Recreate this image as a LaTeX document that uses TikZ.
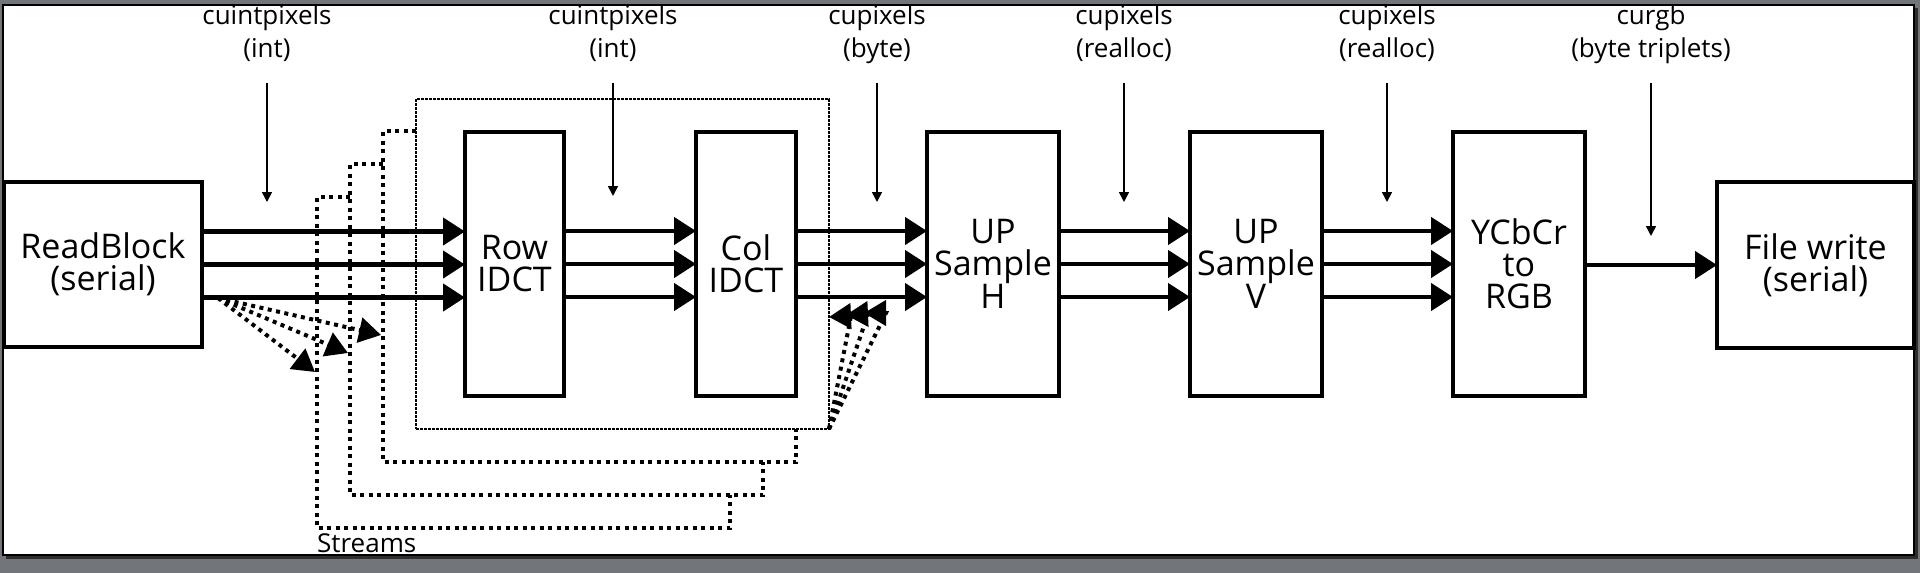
\documentclass[tikz,border=0pt]{standalone}
\usepackage{fontspec}
\setmainfont{Open Sans}
\usetikzlibrary{arrows.meta}
\definecolor{bggray}{RGB}{114,118,122}
\definecolor{shadowgray}{RGB}{45,45,45}
\begin{document}
\begin{tikzpicture}[x=1pt,y=-1pt,
  box/.style={draw=black, line width=4pt, fill=white, inner sep=0pt, outer sep=0pt, align=center, font=\fontsize{34}{32}\selectfont},
  flow/.style={line width=4.5pt, -{Triangle[length=22pt,width=27pt]}},
  lbl/.style={anchor=base, inner sep=0pt, font=\fontsize{26}{30}\selectfont},
  lblarrow/.style={line width=1.6pt, -{Triangle[length=10pt,width=10pt]}},
  stream/.style={line width=4pt, dash pattern=on 4pt off 4.5pt},
  streamarrow/.style={stream, -{Triangle[length=22pt,width=25pt]}},
  grpbox/.style={draw, line width=2.8pt, dash pattern=on 3pt off 1pt, inner sep=0pt, outer sep=0pt},
]
\useasboundingbox (0,0) rectangle (1920,573);
% window background and canvas
\fill[bggray] (0,0) rectangle (1920,573);
\fill[shadowgray] (6,8) rectangle (1918,559);
\filldraw[fill=white, draw=black, line width=2pt] (3,5) rectangle (1914,555);

% stacked stream outlines (behind the IDCT group)
\draw[stream] (416,131) -- (383,131) -- (383,462) -- (796,462) -- (796,429);
\draw[stream] (383,164) -- (350,164) -- (350,495) -- (763,495) -- (763,462);
\draw[stream] (350,197) -- (317,197) -- (317,528) -- (730,528) -- (730,495);

% IDCT group box
\node[grpbox, minimum width=413, minimum height=330] (grp) at (622.5,264) {};

% processing boxes
\node[box, minimum width=198, minimum height=165] (rb) at (103,264.5) {ReadBlock\\(serial)};
\node[box, minimum width=99, minimum height=264] (row) at (514.5,264) {Row\\IDCT};
\node[box, minimum width=100, minimum height=264] (col) at (746,264) {Col\\IDCT};
\node[box, minimum width=132, minimum height=264] (uph) at (993,264) {UP\\Sample\\H};
\node[box, minimum width=132, minimum height=264] (upv) at (1256,264) {UP\\Sample\\V};
\node[box, minimum width=132, minimum height=264] (ycc) at (1519,264) {YCbCr\\to\\RGB};
\node[box, minimum width=197, minimum height=166] (fw) at (1815.5,265) {File write\\(serial)};

% main data flow
\foreach \s in {33pt,0pt,-33pt}{
  \draw[flow] ([yshift=\s]rb.east) -- ([yshift=\s]rb.east -| row.west);
  \draw[flow] ([yshift=\s]row.east) -- ([yshift=\s]row.east -| col.west);
  \draw[flow] ([yshift=\s]col.east) -- ([yshift=\s]col.east -| uph.west);
  \draw[flow] ([yshift=\s]uph.east) -- ([yshift=\s]uph.east -| upv.west);
  \draw[flow] ([yshift=\s]upv.east) -- ([yshift=\s]upv.east -| ycc.west);
}
\draw[flow] (ycc.east |- fw.west) -- (fw.west);

% buffer labels
\node[lbl] (l1a) at (267,24) {cuintpixels};
\node[lbl] (l1b) at (267,57) {(int)};
\node[lbl] (l2a) at (613,24) {cuintpixels};
\node[lbl] (l2b) at (613,57) {(int)};
\node[lbl] (l3a) at (877,24) {cupixels};
\node[lbl] (l3b) at (877,57) {(byte)};
\node[lbl] (l4a) at (1124,24) {cupixels};
\node[lbl] (l4b) at (1124,57) {(realloc)};
\node[lbl] (l5a) at (1387,24) {cupixels};
\node[lbl] (l5b) at (1387,57) {(realloc)};
\node[lbl] (l6a) at (1651,24) {curgb};
\node[lbl] (l6b) at (1651,57) {(byte triplets)};

\coordinate (a1s) at (267,83);  \coordinate (a1e) at (267,202);
\coordinate (a2s) at (613,83);  \coordinate (a2e) at (613,196);
\coordinate (a3s) at (877,83);  \coordinate (a3e) at (877,202);
\coordinate (a4s) at (1124,83); \coordinate (a4e) at (1124,202);
\coordinate (a5s) at (1387,83); \coordinate (a5e) at (1387,202);
\coordinate (a6s) at (1651,83); \coordinate (a6e) at (1651,236);
\foreach \i in {1,...,6}{\draw[lblarrow] (a\i s) -- (a\i e);}

% stream fan-out from ReadBlock
\coordinate (rs) at (218,298);
\coordinate (st1) at (381,335);
\coordinate (st2) at (348,353);
\coordinate (st3) at (315,372);
\draw[streamarrow] (rs) -- (st1);
\draw[streamarrow] (rs) -- (st2);
\draw[streamarrow] (rs) -- (st3);

% stream fan-in to Col IDCT output
\coordinate (kb1) at (851,316); \coordinate (kt1) at (829,317);
\coordinate (kb2) at (868,314); \coordinate (kt2) at (846,315);
\coordinate (kb3) at (886,313); \coordinate (kt3) at (864,313);
\draw[streamarrow] (grp.south east) -- (kb1) -- (kt1);
\draw[streamarrow] (grp.south east) -- (kb2) -- (kt2);
\draw[streamarrow] (grp.south east) -- (kb3) -- (kt3);

\node[lbl, anchor=base west] (streams) at (317,552) {Streams};
\end{tikzpicture}
\end{document}
